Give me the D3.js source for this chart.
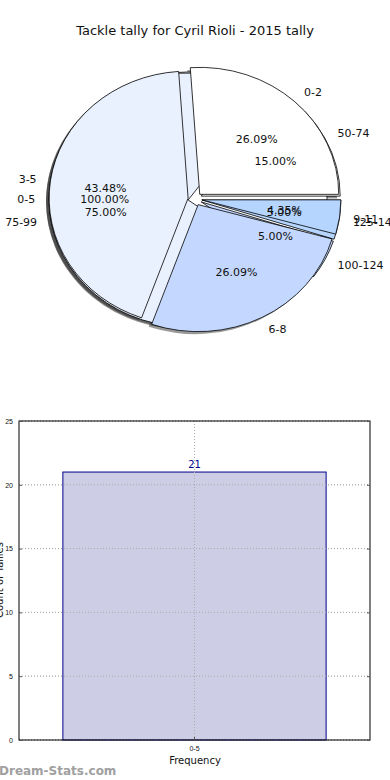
<!DOCTYPE html>
<html>
<head>
<meta charset="utf-8">
<script src="https://cdn.jsdelivr.net/npm/d3@7"></script>
<style>
  body { margin: 0; background: #fff; }
  svg { display: block; font-family: "DejaVu Sans", sans-serif; }
</style>
</head>
<body>
<script>
var width = 390,
    height = 780;

// pie data: three pies drawn over each other (bottom first)
var pieOrder = ["fives", "fifties", "tackles"];
var tackleCats = ["0-2", "3-5", "6-8", "9-11"],
    tackleVals = [6, 10, 6, 1];
var fiveCats = ["0-5"],
    fiveVals = [21];
var fiftyCats = ["50-74", "75-99", "100-124", "125-149"],
    fiftyVals = [3, 15, 1, 1];
var sliceColors = ["#ffffff", "#eaf1fe", "#c4d8ff", "#b5d5ff"];

// bar data
var barCats = ["0-5"],
    barVals = [21];
var yTicks = [0, 5, 10, 15, 20, 25];

var svg = d3.select("body").append("svg")
    .attr("width", width)
    .attr("height", height);

svg.append("text")
    .attr("x", 195).attr("y", 35)
    .attr("text-anchor", "middle")
    .style("font-size", "13px")
    .style("fill", "#111")
    .text("Tackle tally for Cyril Rioli - 2015 tally");

// ---- pie ----
var cx = 195, cy = 199, rx = 139, ry = 127, expl = 0.05;

var pies = {
  tackles: { cats: tackleCats, vals: tackleVals },
  fives: { cats: fiveCats, vals: fiveVals },
  fifties: { cats: fiftyCats, vals: fiftyVals }
};

var pie = d3.pie().sort(null).startAngle(0).endAngle(2 * Math.PI);
var arc = d3.arc().innerRadius(0).outerRadius(rx);

// matplotlib angles go counter-clockwise from 3 o'clock
function wedges(p) {
  return pie(p.vals).map(function(d, i) {
    var mid = (d.startAngle + d.endAngle) / 2;
    return {
      cat: p.cats[i],
      pct: d.value / d3.sum(p.vals) * 100,
      color: sliceColors[i % sliceColors.length],
      a0: Math.PI / 2 - d.endAngle,
      a1: Math.PI / 2 - d.startAngle,
      mid: mid,
      ox: expl * rx * Math.cos(mid),
      oy: -expl * ry * Math.sin(mid)
    };
  });
}

var all = pieOrder.map(function(k) { return wedges(pies[k]); });
var flat = [].concat.apply([], all);

var pieG = svg.append("g");

function wedgePath(d) {
  return arc({ startAngle: d.a0, endAngle: d.a1 });
}

// shadows under everything
pieG.selectAll(".shadow")
    .data(flat)
  .enter().append("path")
    .attr("class", "shadow")
    .attr("transform", function(d) {
      return "translate(" + (cx + d.ox - 3) + "," + (cy + d.oy + 2.5) + ") scale(1," + (ry / rx) + ")";
    })
    .attr("d", wedgePath)
    .style("fill", "#333")
    .style("fill-opacity", 0.5);

pieG.selectAll(".wedge")
    .data(flat)
  .enter().append("path")
    .attr("class", "wedge")
    .attr("transform", function(d) {
      return "translate(" + (cx + d.ox) + "," + (cy + d.oy) + ") scale(1," + (ry / rx) + ")";
    })
    .attr("d", wedgePath)
    .attr("vector-effect", "non-scaling-stroke")
    .style("fill", function(d) { return d.color; })
    .style("stroke", "#000")
    .style("stroke-width", 0.8);

var labelG = svg.append("g").style("font-size", "11px").style("fill", "#111");

labelG.selectAll(".lab")
    .data(flat)
  .enter().append("text")
    .attr("x", function(d) { return cx + d.ox + 1.1 * rx * Math.cos(d.mid); })
    .attr("y", function(d) { return cy + d.oy - 1.1 * ry * Math.sin(d.mid); })
    .attr("dy", "0.35em")
    .attr("text-anchor", function(d) { return Math.cos(d.mid) > 0 ? "start" : "end"; })
    .text(function(d) { return d.cat; });

labelG.selectAll(".pct")
    .data(flat)
  .enter().append("text")
    .attr("x", function(d) { return cx + d.ox + 0.6 * rx * Math.cos(d.mid); })
    .attr("y", function(d) { return cy + d.oy - 0.6 * ry * Math.sin(d.mid); })
    .attr("dy", "0.35em")
    .attr("text-anchor", "middle")
    .text(function(d) { return d.pct.toFixed(2) + "%"; });

// ---- bar chart ----
var plotL = 19, plotR = 370, plotT = 421, plotB = 740;

var x = d3.scaleBand().domain(barCats).range([plotL, plotR])
    .paddingInner(0.25).paddingOuter(0.125);
var y = d3.scaleLinear().domain([0, 25]).range([plotB, plotT]);

var grid = svg.append("g")
    .style("stroke", "#bbb")
    .style("stroke-dasharray", "1,2")
    .style("stroke-width", 1);

grid.selectAll(".hg")
    .data(yTicks)
  .enter().append("line")
    .attr("x1", plotL).attr("x2", plotR)
    .attr("y1", function(d) { return y(d); })
    .attr("y2", function(d) { return y(d); });

svg.selectAll(".bar")
    .data(barVals)
  .enter().append("rect")
    .attr("x", function(d, i) { return x(barCats[i]); })
    .attr("y", function(d) { return y(d); })
    .attr("width", x.bandwidth())
    .attr("height", function(d) { return plotB - y(d); })
    .style("fill", "#cdcde5")
    .style("stroke", "#00008b")
    .style("stroke-width", 1);

// grid drawn over the bar, as in the original
var grid2 = svg.append("g")
    .style("stroke", "#aaa")
    .style("stroke-dasharray", "1,2")
    .style("stroke-width", 1);

grid2.selectAll(".hg")
    .data(yTicks)
  .enter().append("line")
    .attr("x1", plotL).attr("x2", plotR)
    .attr("y1", function(d) { return y(d); })
    .attr("y2", function(d) { return y(d); });

grid2.selectAll(".vg")
    .data(barCats)
  .enter().append("line")
    .attr("x1", function(d) { return x(d) + x.bandwidth() / 2; })
    .attr("x2", function(d) { return x(d) + x.bandwidth() / 2; })
    .attr("y1", plotT).attr("y2", plotB);

svg.selectAll(".barlab")
    .data(barVals)
  .enter().append("text")
    .attr("x", function(d, i) { return x(barCats[i]) + x.bandwidth() / 2; })
    .attr("y", function(d) { return y(d) - 4; })
    .attr("text-anchor", "middle")
    .style("font-size", "10px")
    .style("fill", "#00008b")
    .text(function(d) { return d; });

// frame and ticks
svg.append("rect")
    .attr("x", plotL).attr("y", plotT)
    .attr("width", plotR - plotL).attr("height", plotB - plotT)
    .style("fill", "none")
    .style("stroke", "#000")
    .style("stroke-width", 1);

svg.append("g")
    .attr("transform", "translate(" + plotL + ",0)")
    .call(d3.axisLeft(y).tickValues(yTicks).tickSize(3).tickPadding(3))
    .call(function(g) {
      g.select(".domain").remove();
      g.selectAll("text").style("font-size", "7px").style("fill", "#111");
      g.selectAll("line").attr("x2", 3).style("stroke", "#555");
    });

svg.append("g")
    .attr("transform", "translate(" + plotR + ",0)")
    .call(d3.axisRight(y).tickValues(yTicks).tickSize(3).tickFormat(""))
    .call(function(g) {
      g.select(".domain").remove();
      g.selectAll("line").attr("x2", -3).style("stroke", "#555");
    });

svg.append("g")
    .attr("transform", "translate(0," + plotB + ")")
    .call(d3.axisBottom(x).tickSize(3).tickPadding(3))
    .call(function(g) {
      g.select(".domain").remove();
      g.selectAll("text").style("font-size", "7px").style("fill", "#111");
      g.selectAll("line").attr("y2", -3).style("stroke", "#555");
    });

svg.append("text")
    .attr("x", 195).attr("y", 764)
    .attr("text-anchor", "middle")
    .style("font-size", "10px")
    .style("fill", "#111")
    .text("Frequency");

svg.append("text")
    .attr("transform", "translate(3,580) rotate(-90)")
    .attr("text-anchor", "middle")
    .style("font-size", "10px")
    .style("fill", "#111")
    .text("Count of Tallies");

svg.append("text")
    .attr("x", -1).attr("y", 775)
    .style("font-size", "12px")
    .style("font-weight", "bold")
    .style("fill", "#a0a0a0")
    .text("Dream-Stats.com");
</script>
</body>
</html>
